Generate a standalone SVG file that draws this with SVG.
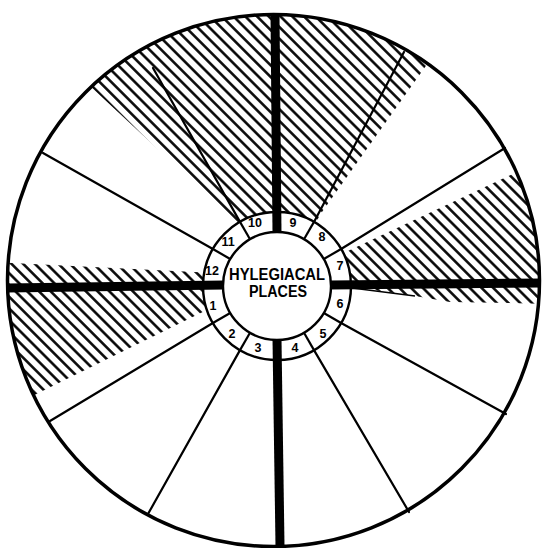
<svg xmlns="http://www.w3.org/2000/svg" width="542" height="548" viewBox="0 0 542 548">
<style>
.spoke{stroke:#000;stroke-width:2.2;fill:none;stroke-linecap:round}
.thick{stroke:#000;stroke-width:9;fill:none}
.ring{stroke:#000;stroke-width:2.4;fill:#fff}
.div{stroke:#000;stroke-width:2.2}
.num{font-family:"Liberation Sans",Arial,sans-serif;font-weight:bold;font-size:12.5px;text-anchor:middle;fill:#000}
.title{font-family:"Liberation Sans",Arial,sans-serif;font-weight:bold;font-size:16px;text-anchor:middle;fill:#000}
.hatch{fill:url(#hatch);stroke:none}
</style>
<defs>
<pattern id="hatch" patternUnits="userSpaceOnUse" width="8.3" height="10" patternTransform="rotate(-45)">
<line x1="4.15" y1="-1" x2="4.15" y2="11" stroke="#000" stroke-width="2.5"/>
</pattern>
<clipPath id="outer"><circle cx="273.5" cy="280.5" r="266"/></clipPath>
</defs>
<rect x="0" y="0" width="542" height="548" fill="#fff"/>
<g id="hatching" clip-path="url(#outer)">
<polygon class="hatch" points="277,286 248,233 90,86 20,20 20,-20 470,-20 445,39 423,70 322,212"/>
<polygon class="hatch" points="320,264 560,152 560,285 320,285"/>
<polygon class="hatch" points="352,285 560,285 560,304 450,302 415,296 352,287"/>
<polygon class="hatch" points="-10,262 215,273 215,286 -10,286"/>
<polygon class="hatch" points="-10,288 220,288 220,303.5 -10,417"/>
</g>
<g id="connectors">
<line class="spoke" x1="212.9" y1="249" x2="43" y2="153"/>
<line class="spoke" x1="240" y1="221.9" x2="153" y2="68"/>
<line class="spoke" x1="314" y1="221.9" x2="404" y2="52"/>
<line class="spoke" x1="341.1" y1="249" x2="505" y2="148"/>
<line class="spoke" x1="341.1" y1="323" x2="506" y2="414"/>
<line class="spoke" x1="314" y1="350.1" x2="409" y2="512"/>
<line class="spoke" x1="240" y1="350.1" x2="148" y2="514"/>
<line class="spoke" x1="212.9" y1="323" x2="50" y2="421"/>
<line x1="352" y1="288" x2="415" y2="296" stroke="#000" stroke-width="1.5"/>
</g>
<g id="ring">
<circle class="ring" cx="277" cy="286" r="74"/>
<line class="div" x1="230.2" y1="259" x2="212.9" y2="249"/>
<line class="div" x1="250" y1="239.2" x2="240" y2="221.9"/>
<line class="div" x1="304" y1="239.2" x2="314" y2="221.9"/>
<line class="div" x1="323.8" y1="259" x2="341.1" y2="249"/>
<line class="div" x1="323.8" y1="313" x2="341.1" y2="323"/>
<line class="div" x1="304" y1="332.8" x2="314" y2="350.1"/>
<line class="div" x1="250" y1="332.8" x2="240" y2="350.1"/>
<line class="div" x1="230.2" y1="313" x2="212.9" y2="323"/>
<text class="num" x="255" y="227">10</text>
<text class="num" x="293" y="227">9</text>
<text class="num" x="322" y="241">8</text>
<text class="num" x="340" y="270">7</text>
<text class="num" x="340" y="308">6</text>
<text class="num" x="323" y="338">5</text>
<text class="num" x="295" y="352">4</text>
<text class="num" x="258" y="352">3</text>
<text class="num" x="232" y="338">2</text>
<text class="num" x="213" y="310">1</text>
<text class="num" x="212" y="275">12</text>
<text class="num" x="228" y="246">11</text>
</g>
<g id="axes">
<line class="thick" x1="275" y1="14" x2="277" y2="233"/>
<line class="thick" x1="277" y1="339" x2="280" y2="546"/>
<line class="thick" x1="7" y1="288" x2="224" y2="285"/>
<line class="thick" x1="330" y1="285" x2="541" y2="283"/>
</g>
<g id="center">
<circle class="ring" cx="277" cy="286" r="54"/>
<text class="title" x="277" y="280" textLength="96" lengthAdjust="spacingAndGlyphs">HYLEGIACAL</text>
<text class="title" x="278" y="297" textLength="58" lengthAdjust="spacingAndGlyphs">PLACES</text>
</g>
<circle id="outline" cx="273.5" cy="280.5" r="266" fill="none" stroke="#000" stroke-width="3.5"/>
</svg>
